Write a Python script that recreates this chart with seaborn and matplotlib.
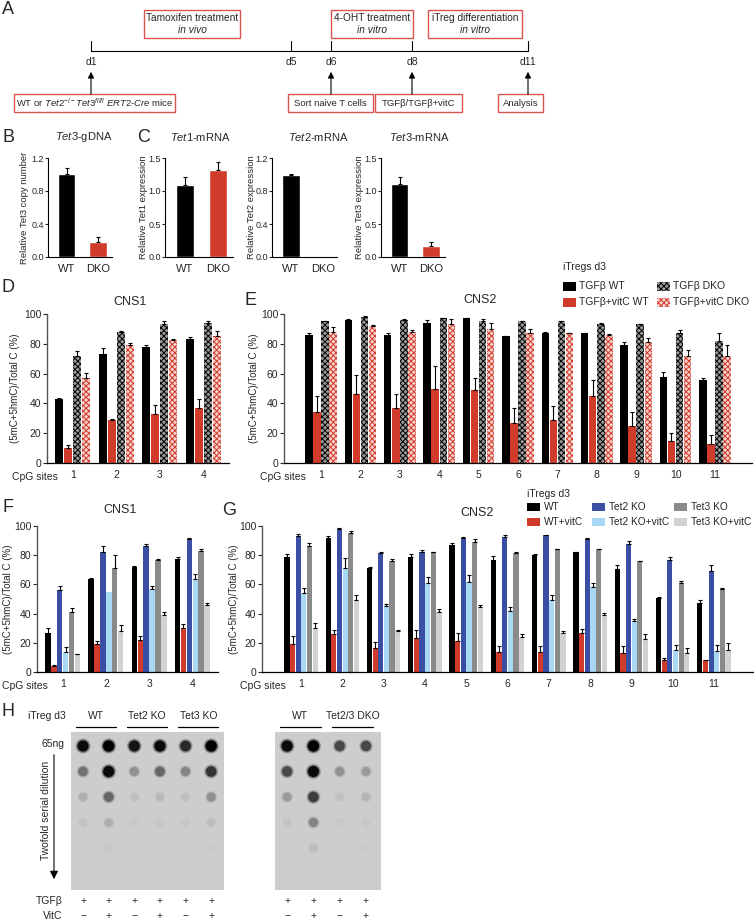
import numpy as np
import pandas as pd
import matplotlib
matplotlib.use("Agg")
import matplotlib.pyplot as plt
from matplotlib.patches import Rectangle
from matplotlib.colors import LinearSegmentedColormap
import seaborn as sns

W, H = 754, 921

# ---------------- data ----------------
b_groups = ["WT", "DKO"]
tet3_gdna = [1.01, 0.18]
tet3_gdna_err = [0.07, 0.06]
tet1_mrna = [1.09, 1.32]
tet1_mrna_err = [0.12, 0.12]
tet2_mrna = [0.99, 0.0]
tet2_mrna_err = [0.01, 0.0]
tet3_mrna = [1.11, 0.17]
tet3_mrna_err = [0.10, 0.05]

d_conds = ["TGFβ WT", "TGFβ+vitC WT", "TGFβ DKO", "TGFβ+vitC DKO"]
cns1_sites = ["1", "2", "3", "4"]
cns2_sites = ["1", "2", "3", "4", "5", "6", "7", "8", "9", "10", "11"]

# rows follow d_conds
d_cns1 = [[43, 73, 78, 83.5],
          [10, 29, 33, 37],
          [72, 88, 93, 94],
          [57, 79, 82.5, 85]]
d_cns1_err = [[0.5, 4, 1.5, 1],
              [2, 0.5, 6, 6],
              [3, 0.5, 2, 1],
              [3.5, 1.5, 0.5, 3.5]]

e_cns2 = [[86, 96, 86, 94, 97, 85, 87, 87, 79, 58, 56],
          [34, 46, 37, 50, 49, 27, 29, 45, 25, 15, 13],
          [95, 98, 96, 97, 95, 95, 95, 93, 93, 87, 82],
          [88, 92, 88, 93, 90, 87, 87, 86, 81, 72, 72]]
e_cns2_err = [[1, 0.5, 1.5, 2, 0.5, 0.5, 1, 0.5, 2, 3, 1],
              [11, 13, 9, 15, 8, 10, 9, 11, 9, 5, 6],
              [0.5, 0.5, 0.5, 0.5, 1.5, 0.5, 0.5, 1, 0.5, 2.5, 5],
              [3, 0.5, 1, 3.5, 4, 3, 0.5, 0.5, 3, 4, 7]]

g_conds = ["WT", "WT+vitC", "Tet2 KO", "Tet2 KO+vitC", "Tet3 KO", "Tet3 KO+vitC"]
g_colors = ["#000000", "#d13b2b", "#3a4fa3", "#a8d8f4", "#8a8a8a", "#d2d2d2"]

f_cns1 = [[27, 64, 72, 77.5],
          [4, 19, 22, 30],
          [56, 82, 86, 91],
          [14, 55, 57, 64],
          [41, 71, 77, 83],
          [12, 28, 39, 46]]
f_cns1_err = [[3, 0.5, 0.5, 1.5],
              [1, 2, 3, 3],
              [3, 4, 1.5, 1],
              [3, 0, 2, 3],
              [2.5, 9, 0.5, 1.5],
              [0.5, 4, 2, 1]]

g_cns2 = [[78.5, 91.5, 71, 79, 87, 77, 80, 82, 70.5, 50.5, 47],
          [19.5, 26, 16.5, 23, 21.5, 14, 13.5, 27, 13, 8, 8],
          [93, 98, 81.5, 82.5, 91.5, 92.5, 93.5, 91, 87.5, 77, 69],
          [54, 71, 45.5, 61, 61.5, 42, 49, 58.5, 35, 15, 14.5],
          [86.5, 95, 76, 82, 89, 81.5, 84, 84, 76, 61, 57],
          [30, 49, 28, 41, 44.5, 24, 26.5, 39, 22.5, 13, 15]]
g_cns2_err = [[2, 1.5, 1, 2, 1.5, 2.5, 0.5, 0.5, 2.5, 1, 2.5],
              [5, 3, 4, 6, 5.5, 4, 4, 2.5, 4.5, 1.5, 0.5],
              [1.5, 0.3, 0.5, 1, 1, 1.5, 0.3, 0.5, 2, 2, 4],
              [3.5, 7, 1, 4, 5, 2.5, 3.5, 2.5, 1, 3.5, 4],
              [2, 1.5, 1.5, 0.5, 2, 0.5, 0.5, 0.5, 0.3, 1.5, 0.5],
              [3.5, 4, 0.5, 2, 1.5, 2, 1.5, 1.5, 3.5, 3.5, 5]]

# dot blot intensities (rows = twofold dilutions)
blot1_groups = ["WT", "Tet2 KO", "Tet3 KO"]
blot1 = [[0.95, 1.0, 0.9, 0.95, 0.8, 1.0],
         [0.45, 0.95, 0.3, 0.5, 0.35, 0.75],
         [0.15, 0.5, 0.07, 0.1, 0.07, 0.3],
         [0.05, 0.15, 0.02, 0.03, 0.03, 0.08],
         [0.0, 0.03, 0.0, 0.0, 0.0, 0.02]]
blot2_groups = ["WT", "Tet2/3 DKO"]
blot2 = [[0.95, 1.0, 0.65, 0.65],
         [0.65, 0.95, 0.3, 0.25],
         [0.25, 0.7, 0.07, 0.12],
         [0.05, 0.35, 0.03, 0.03],
         [0.0, 0.08, 0.0, 0.02]]
tgfb_row = ["+", "+"]
vitc_row = ["−", "+"]

RED = "#d13b2b"
BOXRED = "#d9534f"

# ---------------- style ----------------
sns.set_theme(style="ticks")
plt.rcParams["font.family"] = ["Liberation Sans", "DejaVu Sans"]
plt.rcParams["mathtext.fontset"] = "custom"
plt.rcParams["mathtext.rm"] = "Liberation Sans"
plt.rcParams["mathtext.it"] = "Liberation Sans:italic"
plt.rcParams["hatch.linewidth"] = 0.7

fig = plt.figure(figsize=(W / 100, H / 100), dpi=100)


def px_axes(x0, y0, x1, y1):
    return fig.add_axes([x0 / W, 1 - y1 / H, (x1 - x0) / W, (y1 - y0) / H])


def set_ylab(ax, text, x_px, size=7):
    ax.set_ylabel(text, fontsize=size)
    ax.yaxis.label.set_va("center")
    pos = ax.get_position()
    ax.yaxis.set_label_coords((x_px / W - pos.x0) / pos.width, 0.5)


def add_err(ax, conts, errs):
    for cont, err in zip(conts, errs):
        xs, hs, es = [], [], []
        for bar, e in zip(cont, err):
            if e > 0:
                xs.append(bar.get_x() + bar.get_width() / 2)
                hs.append(bar.get_height())
                es.append(e)
        if xs:
            ax.errorbar(xs, hs, yerr=[np.zeros(len(es)), es], fmt="none",
                        ecolor="black", elinewidth=0.8, capsize=1.6, capthick=0.8)


def small_panel(ax, vals, errs, top, ticks, ticklabels, ylabel, ylab_x):
    df = pd.DataFrame({"group": b_groups, "value": vals})
    sns.barplot(data=df, x="group", y="value", hue="group", palette=["black", RED],
                saturation=1, width=0.55, errorbar=None, legend=False, ax=ax)
    add_err(ax, [[p] for p in ax.patches], [[e] for e in errs])
    ax.set_xlim(-0.6, 1.45)
    ax.set_ylim(0, top)
    ax.set_yticks(ticks)
    ax.set_yticklabels(ticklabels)
    ax.set_xlabel("")
    ax.tick_params(axis="y", labelsize=6.5, length=2, width=0.8, pad=1)
    ax.tick_params(axis="x", labelsize=8, length=0, pad=5)
    sns.despine(ax=ax)
    for s in ["left", "bottom"]:
        ax.spines[s].set_linewidth(0.8)
        ax.spines[s].set_color("black")
    set_ylab(ax, ylabel, ylab_x, size=6.8)


def cpg_panel(ax, sites, conds, vals, errs, colors, ylab_x, hatched=False):
    rows = []
    for c, row in zip(conds, vals):
        for s, v in zip(sites, row):
            rows.append((s, c, v))
    df = pd.DataFrame(rows, columns=["site", "cond", "value"])
    sns.barplot(data=df, x="site", y="value", hue="cond", order=sites, hue_order=conds,
                palette=colors, saturation=1, width=0.82, gap=0.08, errorbar=None,
                legend=False, ax=ax, linewidth=0)
    if hatched:
        for bar in ax.containers[2]:
            bar.set_facecolor("#9a9a9a")
            bar.set_edgecolor("black")
            bar.set_hatch("xxxxxx")
            bar.set_linewidth(0)
        for bar in ax.containers[3]:
            bar.set_facecolor("#f7d2cd")
            bar.set_edgecolor(RED)
            bar.set_hatch("xxxxxx")
            bar.set_linewidth(0)
    add_err(ax, ax.containers, errs)
    ax.set_ylim(0, 100)
    ax.set_yticks([0, 20, 40, 60, 80, 100])
    ax.set_xlabel("")
    ax.tick_params(axis="y", labelsize=7.5, length=3, width=0.8, pad=1)
    ax.tick_params(axis="x", labelsize=7.5, length=0, pad=5)
    sns.despine(ax=ax)
    ax.spines["left"].set_linewidth(1.0)
    ax.spines["left"].set_color("#555555")
    ax.spines["bottom"].set_linewidth(0.9)
    ax.spines["bottom"].set_color("black")
    set_ylab(ax, "(5mC+5hmC)/Total C (%)", ylab_x)
    ax.annotate("CpG sites", xy=(0, 0), xycoords=("data", "axes fraction"),
                xytext=(-11, -10), textcoords="offset points",
                ha="right", va="center", fontsize=7.5)


# ---------------- B / C ----------------
axB = px_axes(48, 158, 112, 257)
small_panel(axB, tet3_gdna, tet3_gdna_err, 1.2, [0, 0.4, 0.8, 1.2],
            ["0.0", "0.4", "0.8", "1.2"], "Relative Tet3 copy number", 25)
axC1 = px_axes(165, 158, 233, 257)
small_panel(axC1, tet1_mrna, tet1_mrna_err, 1.5, [0, 0.5, 1.0, 1.5],
            ["0.0", "0.5", "1.0", "1.5"], "Relative Tet1 expression", 144)
axC2 = px_axes(272, 158, 337, 257)
small_panel(axC2, tet2_mrna, tet2_mrna_err, 1.2, [0, 0.4, 0.8, 1.2],
            ["0.0", "0.4", "0.8", "1.2"], "Relative Tet2 expression", 251)
axC3 = px_axes(381, 158, 445, 257)
small_panel(axC3, tet3_mrna, tet3_mrna_err, 1.5, [0, 0.5, 1.0, 1.5],
            ["0.0", "0.5", "1.0", "1.5"], "Relative Tet3 expression", 359)

# ---------------- D / E ----------------
d_colors = ["black", RED, "#9a9a9a", "#f7d2cd"]
axD = px_axes(47, 314, 229, 463)
cpg_panel(axD, cns1_sites, d_conds, d_cns1, d_cns1_err, d_colors, 15, hatched=True)
axE = px_axes(284, 314, 752, 463)
cpg_panel(axE, cns2_sites, d_conds, e_cns2, e_cns2_err, d_colors, 254, hatched=True)

# ---------------- F / G ----------------
axF = px_axes(37, 526, 218, 672)
cpg_panel(axF, cns1_sites, g_conds, f_cns1, f_cns1_err, g_colors, 8)
axG = px_axes(262, 526, 753, 672)
cpg_panel(axG, cns2_sites, g_conds, g_cns2, g_cns2_err, g_colors, 234)

# ---------------- H dot blots ----------------
blot_cmap = LinearSegmentedColormap.from_list("blot", ["#cdcdcd", "#000000"])


def blot_panel(ax, vals, groups, xlim):
    arr = np.array(vals)
    rr, cc = np.meshgrid(np.arange(arr.shape[0]), np.arange(arr.shape[1]), indexing="ij")
    ax.set_facecolor("#cdcdcd")
    # a few soft layers so the spots look blurred like a real membrane
    for grow, a in [(1.9, 0.18), (1.45, 0.35), (1.0, 1.0)]:
        ax.scatter(cc.ravel(), rr.ravel(), c=arr.ravel(), cmap=blot_cmap, vmin=0, vmax=1,
                   s=(30 + 36 * arr.ravel()) * grow, linewidths=0, alpha=a)
    ax.set_xlim(*xlim)
    ax.set_ylim(5.65, -0.55)
    ax.set_xticks([])
    ax.set_yticks([])
    for s in ax.spines.values():
        s.set_visible(False)
    for i, g in enumerate(groups):
        cx = 2 * i + 0.5
        ax.text(cx, -1.18, g, ha="center", va="center", fontsize=7.5, clip_on=False)
        ax.plot([cx - 0.78, cx + 0.78], [-0.75, -0.75], color="black", lw=0.9, clip_on=False)
        for j in range(2):
            ax.text(2 * i + j, 6.08, tgfb_row[j], ha="center", va="center", fontsize=7.5, clip_on=False)
            ax.text(2 * i + j, 6.67, vitc_row[j], ha="center", va="center", fontsize=7.5, clip_on=False)


axH1 = px_axes(71, 732, 224, 890)
blot_panel(axH1, blot1, blot1_groups, (-0.47, 5.5))
axH2 = px_axes(275, 732, 381, 890)
blot_panel(axH2, blot2, blot2_groups, (-0.46, 3.57))

# ---------------- overlay (A, labels, legends) ----------------
ov = fig.add_axes([0, 0, 1, 1])
ov.set_xlim(0, W)
ov.set_ylim(H, 0)
ov.axis("off")
ov.patch.set_alpha(0)
ov.set_zorder(10)

# panel letters
for lab, (x, y) in {"A": (8, 10), "B": (8, 138), "C": (144, 138), "D": (8, 287),
                    "E": (251, 300), "F": (8, 507), "G": (229, 510), "H": (8, 711)}.items():
    ov.text(x, y, lab, fontsize=13, ha="center", va="center")

# timeline
tl_days = ["d1", "d5", "d6", "d8", "d11"]
tl_x = [91, 291, 331, 412, 528]
ov.plot([tl_x[0], tl_x[-1]], [51, 51], color="black", lw=0.8)
for d, x in zip(tl_days, tl_x):
    ov.plot([x, x], [41, 51], color="black", lw=0.8)
    ov.text(x, 62, d, ha="center", va="center", fontsize=7.5)
for x in [tl_x[0], tl_x[2], tl_x[3], tl_x[4]]:
    ov.annotate("", xy=(x, 69), xytext=(x, 97),
                arrowprops=dict(arrowstyle="-|>", color="black", lw=0.8, mutation_scale=9))

top_boxes = [(144, 240, "Tamoxifen treatment", "in vivo"),
             (331, 413, "4-OHT treatment", "in vitro"),
             (428, 522, "iTreg differentiation", "in vitro")]
for x0, x1, l1, l2 in top_boxes:
    ov.add_patch(Rectangle((x0, 10), x1 - x0, 28, fc="white", ec=BOXRED, lw=1))
    ov.text((x0 + x1) / 2, 18, l1, ha="center", va="center", fontsize=7.3)
    ov.text((x0 + x1) / 2, 30, l2, ha="center", va="center", fontsize=7.3, style="italic")

bottom_boxes = [(14, 175, r"WT or $\mathit{Tet2}^{-/-}\mathit{Tet3}^{fl/fl}$ $\mathit{ERT2}$-$\mathit{Cre}$ mice"),
                (288, 373, "Sort naive T cells"),
                (375, 462, "TGFβ/TGFβ+vitC"),
                (498, 543, "Analysis")]
for x0, x1, t in bottom_boxes:
    ov.add_patch(Rectangle((x0, 94), x1 - x0, 18, fc="white", ec=BOXRED, lw=1))
    ov.text((x0 + x1) / 2, 103, t, ha="center", va="center", fontsize=6.8)

# titles
ov.text(84, 137, r"$\mathit{Tet3}$-gDNA", ha="center", va="center", fontsize=8)
ov.text(200, 137, r"$\mathit{Tet1}$-mRNA", ha="center", va="center", fontsize=8)
ov.text(318, 137, r"$\mathit{Tet2}$-mRNA", ha="center", va="center", fontsize=8)
ov.text(419, 137, r"$\mathit{Tet3}$-mRNA", ha="center", va="center", fontsize=8)
ov.text(130, 302, "CNS1", ha="center", va="center", fontsize=9)
ov.text(480, 300, "CNS2", ha="center", va="center", fontsize=9)
ov.text(120, 510, "CNS1", ha="center", va="center", fontsize=9)
ov.text(477, 513, "CNS2", ha="center", va="center", fontsize=9)

# legend D/E
ov.text(563, 267, "iTregs d3", ha="left", va="center", fontsize=7.5)
leg_cols = [563, 563, 657, 657]
leg_rows = [286, 302, 286, 302]
for i, c in enumerate(d_conds):
    x, y = leg_cols[i], leg_rows[i]
    p = Rectangle((x, y - 4.5), 13, 9, fc=d_colors[i], lw=0)
    if i == 2:
        p.set_edgecolor("black")
        p.set_hatch("xxxxxx")
    if i == 3:
        p.set_edgecolor(RED)
        p.set_hatch("xxxxxx")
    ov.add_patch(p)
    ov.text(x + 16, y, c, ha="left", va="center", fontsize=7.5)

# legend F/G
ov.text(527, 494, "iTregs d3", ha="left", va="center", fontsize=7.5)
g_leg_x = [527, 527, 592, 592, 674, 674]
g_leg_y = [507, 522, 507, 522, 507, 522]
for i, c in enumerate(g_conds):
    x, y = g_leg_x[i], g_leg_y[i]
    ov.add_patch(Rectangle((x, y - 4), 13, 8, fc=g_colors[i], lw=0))
    ov.text(x + 17, y, c, ha="left", va="center", fontsize=7.3)

# H side labels
ov.text(47, 716, "iTreg d3", ha="center", va="center", fontsize=7.5)
ov.text(53, 744, "65ng", ha="center", va="center", fontsize=7.5)
ov.annotate("", xy=(54, 882), xytext=(54, 752),
            arrowprops=dict(arrowstyle="-|>", color="black", lw=0.8, mutation_scale=12))
ov.text(46, 810, "Twofold serial dilution", ha="center", va="center", rotation=90, fontsize=7.5)
ov.text(49, 901, "TGFβ", ha="center", va="center", fontsize=7.5)
ov.text(53, 916, "VitC", ha="center", va="center", fontsize=7.5)

fig.savefig("out.png", dpi=100)
